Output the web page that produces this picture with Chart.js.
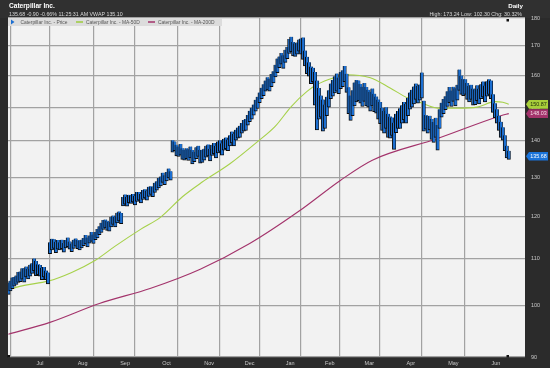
<!DOCTYPE html>
<html>
<head>
<meta charset="utf-8">
<script src="https://cdn.jsdelivr.net/npm/chart.js@4.4.1/dist/chart.umd.min.js"></script>
<style>
  html, body { margin: 0; padding: 0; background: #2b2b2b; }
  canvas { display: block; }
</style>
</head>
<body>
<canvas id="chart" width="550" height="368"></canvas>
<script>
// month labels and the trading-day index where each month starts
const monthLabels = ['Jul', 'Aug', 'Sep', 'Oct', 'Nov', 'Dec', 'Jan', 'Feb', 'Mar', 'Apr', 'May', 'Jun'];
const monthStarts = [6, 26, 49, 69, 91, 112, 132, 153, 172, 193, 214, 236];
const monthEnd = 257;
const yTicks = [90, 100, 110, 120, 130, 140, 150, 160, 170, 180];

// daily lows / highs, one per trading day (late Jun 2017 .. late Jun 2018)
const lows = [
  102.3, 103.0, 103.5, 104.0, 104.4, 104.8,
  105.0, 105.5, 104.9, 106.0, 105.6, 106.2, 106.8, 107.4, 106.3, 106.5, 106.2, 105.4, 106.0, 105.4, 104.5, 111.2, 112.0, 112.4, 111.4, 112.2,
  112.0, 112.3, 111.5, 112.5, 112.8, 112.2, 111.6, 112.4, 112.9, 112.3, 112.0, 112.5, 113.0, 113.4, 112.7, 113.6, 114.0, 113.5, 114.4, 114.8, 115.6, 116.1, 116.8,
  117.2, 116.6, 116.4, 117.4, 118.0, 117.4, 118.4, 118.9, 118.2, 122.6, 123.0, 122.5, 123.4, 123.2, 123.6, 122.8, 123.7, 124.0, 123.3, 124.2,
  124.6, 124.0, 125.0, 125.5, 124.9, 126.0, 126.6, 127.2, 127.7, 128.6, 128.0, 129.0, 129.8, 129.2, 136.8, 137.2, 135.8, 135.6, 136.0, 134.8, 134.6, 135.0,
  134.5, 135.2, 133.6, 134.2, 135.0, 135.6, 133.8, 134.0, 134.6, 135.4, 135.8, 134.4, 135.9, 136.4, 135.2, 136.6, 137.0, 136.0, 137.4, 137.8, 137.2,
  138.6, 139.4, 138.6, 140.2, 140.8, 141.0, 142.2, 142.8, 143.0, 144.6, 145.6, 146.4, 147.6, 148.8, 149.6, 151.4, 152.6, 153.6, 155.0, 155.4,
  155.0, 156.4, 157.6, 159.6, 161.0, 162.6, 163.8, 162.4, 164.4, 165.6, 167.4, 168.0, 166.6, 166.4, 167.2, 168.2, 167.2, 165.4, 163.2, 160.6, 159.8,
  157.4, 158.0, 150.6, 143.2, 146.4, 147.0, 142.8, 143.6, 147.4, 150.0, 152.6, 153.4, 154.4, 155.0, 154.2, 155.8, 156.4, 158.0, 154.6,
  148.0, 146.0, 147.4, 150.4, 151.6, 152.0, 151.2, 150.2, 151.8, 150.4, 150.0, 148.8, 150.4, 148.6, 148.2, 146.4, 145.0, 143.0, 142.2, 143.6, 141.0,
  140.8, 141.6, 137.6, 142.4, 143.6, 143.6, 145.2, 146.2, 145.2, 147.4, 149.4, 150.0, 151.0, 152.4, 151.2, 152.2, 152.8, 142.8, 143.4, 142.2, 143.2,
  140.4, 139.6, 141.0, 137.4, 143.6, 147.0, 148.0, 149.2, 150.2, 151.4, 150.2, 151.8, 150.4, 152.2, 155.2, 154.0, 153.6, 154.0, 152.4, 151.6, 152.4, 150.6,
  150.8, 152.0, 151.0, 152.6, 153.2, 151.6, 153.4, 154.0, 152.6, 148.4, 146.8, 145.2, 143.0, 141.0, 140.2, 137.2, 135.2, 134.8
];
const highs = [
  104.8, 105.2, 105.9, 106.0, 106.3, 107.1,
  107.2, 107.9, 107.9, 108.3, 107.8, 108.7, 109.0, 110.1, 109.5, 108.8, 108.6, 108.0, 108.2, 107.4, 107.0, 113.8, 114.6, 114.5, 113.9, 114.3,
  113.8, 114.4, 113.6, 114.3, 114.9, 114.0, 113.5, 114.4, 114.7, 114.3, 114.2, 114.4, 114.8, 115.5, 114.9, 115.4, 116.2, 115.6, 116.2, 116.9, 117.6, 118.4, 119.1,
  119.2, 118.9, 118.6, 119.9, 120.2, 119.8, 120.9, 121.2, 120.8, 124.8, 125.5, 124.9, 125.4, 125.3, 125.6, 125.1, 126.1, 126.1, 125.6, 126.6,
  126.8, 126.5, 127.5, 127.6, 127.4, 128.5, 128.9, 129.8, 130.2, 131.2, 130.5, 131.4, 132.3, 131.6, 140.2, 139.8, 138.9, 138.4, 139.1, 137.9, 137.4, 137.9,
  137.6, 138.4, 137.4, 136.9, 138.2, 138.6, 137.5, 137.4, 137.8, 138.6, 139.0, 137.8, 138.9, 139.4, 138.6, 139.8, 140.2, 139.3, 140.6, 141.0, 140.4,
  141.6, 142.7, 142.0, 143.2, 143.9, 144.4, 145.2, 146.1, 146.4, 147.6, 148.9, 149.8, 150.8, 152.3, 153.2, 154.6, 156.1, 157.2, 158.4, 159.5,
  159.0, 160.5, 161.4, 163.6, 165.7, 166.4, 167.6, 166.8, 168.7, 169.6, 172.4, 173.2, 171.4, 170.9, 171.2, 172.3, 172.6, 173.0, 168.4, 166.3, 164.4,
  163.0, 162.6, 161.2, 158.4, 156.0, 153.6, 152.4, 150.8, 153.2, 155.3, 157.4, 158.6, 159.8, 160.7, 159.4, 161.2, 161.8, 163.2, 160.6,
  156.2, 153.6, 155.3, 157.8, 158.6, 158.4, 157.3, 156.4, 157.6, 156.3, 155.4, 154.8, 155.8, 154.2, 153.3, 152.4, 151.6, 149.8, 148.9, 150.0, 148.0,
  147.2, 146.9, 145.4, 148.0, 148.8, 149.7, 150.6, 151.6, 151.0, 152.9, 154.6, 155.4, 156.5, 157.4, 156.6, 157.1, 161.0, 152.0, 147.6, 147.3, 147.4,
  146.4, 145.5, 146.8, 144.6, 149.4, 151.4, 152.5, 153.4, 155.0, 156.3, 155.2, 156.4, 155.9, 157.0, 162.0, 160.0, 158.9, 158.8, 157.6, 156.7, 157.0, 155.8,
  155.6, 156.9, 155.8, 157.2, 158.1, 156.8, 158.2, 158.8, 158.4, 154.0, 151.2, 149.4, 147.4, 145.6, 144.0, 141.6, 138.6, 137.2
];

// moving averages (trading-day index, value)
const ma50Idx = [0, 8, 20, 32, 44, 54, 67, 77, 88, 98, 112, 126, 135, 143, 151, 156, 165, 171, 183, 193, 202, 208, 217, 227, 237, 246, 250, 253];
const ma50 = [103.3, 104.2, 105.1, 107.0, 109.7, 112.9, 116.9, 119.8, 124.9, 128.7, 133.6, 139.8, 144.3, 150.2, 154.9, 157.1, 159.4, 160.3, 159.3, 156.0, 152.8, 151.5, 149.7, 149.7, 150.0, 151.7, 151.5, 150.87];
const ma200Idx = [0, 21, 46, 72, 97, 122, 147, 168, 184, 217, 249, 253];
const ma200 = [94.3, 96.6, 100.4, 103.6, 107.7, 113.5, 121.3, 129.2, 134.6, 140.7, 147.4, 148.03];

const lastPrice = 135.68;
const FONT = '"Liberation Sans", Arial, sans-serif';

// x ticks: month starts carry the grid, mid-month carries the label
const labelAt = {};
monthStarts.forEach((s, i) => {
    const next = i < monthStarts.length - 1 ? monthStarts[i + 1] : monthEnd;
    labelAt[(s + next) / 2] = monthLabels[i];
});
const startSet = new Set(monthStarts);

const framePlugin = {
    id: 'frame',
    beforeDraw(chart) {
        const { ctx, chartArea: a } = chart;
        ctx.save();
        ctx.fillStyle = '#2b2b2b';
        ctx.fillRect(0, 0, chart.width, chart.height);
        ctx.fillStyle = '#303030';
        ctx.fillRect(0, 0, chart.width, a.top);
        ctx.fillStyle = '#f2f2f2';
        ctx.fillRect(a.left, a.top, a.right - a.left, a.bottom - a.top);
        ctx.restore();
    },
    afterDraw(chart) {
        const { ctx, chartArea: a } = chart;
        const y = chart.scales.y;
        ctx.save();

        // header texts
        ctx.textBaseline = 'middle';
        ctx.fillStyle = '#ffffff';
        ctx.font = 'bold 6.6px ' + FONT;
        ctx.textAlign = 'left';
        ctx.fillText('Caterpillar Inc.', 9, 6.5);
        ctx.font = '5.3px ' + FONT;
        ctx.fillStyle = '#d8d8d8';
        ctx.fillText('135.68 -0.90 -0.66% 11:25:31 AM VWAP 135.10', 9, 14.5);
        ctx.textAlign = 'right';
        ctx.fillStyle = '#ffffff';
        ctx.font = 'bold 6.2px ' + FONT;
        ctx.fillText('Daily', 523, 6.5);
        ctx.font = '5.3px ' + FONT;
        ctx.fillStyle = '#d8d8d8';
        ctx.fillText('High: 173.24 Low: 102.30 Chg: 30.32%', 522, 15);

        // legend band
        ctx.fillStyle = '#dcdcdc';
        ctx.fillRect(a.left, a.top, 214, 8);
        ctx.fillStyle = '#1c6fd1';
        ctx.beginPath();
        ctx.moveTo(11, a.top + 1.5);
        ctx.lineTo(14.5, a.top + 4);
        ctx.lineTo(11, a.top + 6.5);
        ctx.fill();
        ctx.textAlign = 'left';
        ctx.font = '4.9px ' + FONT;
        ctx.fillStyle = '#555555';
        ctx.fillText('Caterpillar Inc. - Price', 20.5, a.top + 4.2);
        ctx.fillText('Caterpillar Inc. - MA-50D', 86, a.top + 4.2);
        ctx.fillText('Caterpillar Inc. - MA-200D', 158, a.top + 4.2);
        ctx.lineWidth = 1.5;
        ctx.strokeStyle = '#9ccc3c';
        ctx.beginPath(); ctx.moveTo(76, a.top + 4); ctx.lineTo(83, a.top + 4); ctx.stroke();
        ctx.strokeStyle = '#a3336b';
        ctx.beginPath(); ctx.moveTo(148, a.top + 4); ctx.lineTo(155, a.top + 4); ctx.stroke();

        // small black markers
        ctx.fillStyle = '#111111';
        ctx.fillRect(506.5, a.top + 1, 2.5, 2.5);
        ctx.fillRect(506.5, a.bottom - 2, 2.5, 2.5);
        ctx.fillRect(7.5, a.bottom - 2, 2.5, 2.5);

        // value badges on the right axis
        const badge = (v, text, bg, fg) => {
            const py = y.getPixelForValue(v);
            ctx.fillStyle = bg;
            ctx.beginPath();
            ctx.moveTo(526, py);
            ctx.lineTo(529, py - 4.3);
            ctx.lineTo(548, py - 4.3);
            ctx.lineTo(548, py + 4.3);
            ctx.lineTo(529, py + 4.3);
            ctx.closePath();
            ctx.fill();
            ctx.fillStyle = fg;
            ctx.font = '5.4px ' + FONT;
            ctx.textAlign = 'center';
            ctx.fillText(text, 538.5, py + 0.3);
        };
        badge(ma50[ma50.length - 1], '150.87', '#a8cf3a', '#1f2a0a');
        badge(ma200[ma200.length - 1], '148.03', '#a3336b', '#f4dbe6');
        badge(lastPrice, '135.68', '#1a73d9', '#ffffff');
        ctx.restore();
    }
};

const priceData = highs.map((h, i) => ({ x: i, y: [lows[i], h] }));
const ma50Data = ma50Idx.map((x, i) => ({ x: x, y: ma50[i] }));
const ma200Data = ma200Idx.map((x, i) => ({ x: x, y: ma200[i] }));

new Chart(document.getElementById('chart'), {
    type: 'bar',
    data: {
        datasets: [
            {
                label: 'Caterpillar Inc. - Price',
                data: priceData,
                backgroundColor: '#1c6fd1',
                borderColor: '#0b0b0b',
                borderWidth: { left: 1, right: 0.6, top: 0, bottom: 1 },
                borderSkipped: false,
                barThickness: 3.4,
                order: 0
            },
            {
                type: 'line',
                label: 'Caterpillar Inc. - MA-50D',
                data: ma50Data,
                borderColor: '#a6d14a',
                borderWidth: 1.1,
                pointRadius: 0,
                cubicInterpolationMode: 'monotone',
                order: 1
            },
            {
                type: 'line',
                label: 'Caterpillar Inc. - MA-200D',
                data: ma200Data,
                borderColor: '#a3336b',
                borderWidth: 1.1,
                pointRadius: 0,
                cubicInterpolationMode: 'monotone',
                order: 2
            }
        ]
    },
    options: {
        responsive: false,
        animation: false,
        layout: { padding: { left: 8, top: 18, right: 0, bottom: 0 } },
        plugins: { legend: { display: false }, tooltip: { enabled: false } },
        scales: {
            x: {
                type: 'linear',
                min: -0.2,
                max: 261.2,
                offset: false,
                afterFit: s => { s.height = 11; },
                afterBuildTicks: s => {
                    const t = monthStarts.map(v => ({ value: v }));
                    Object.keys(labelAt).forEach(k => t.push({ value: Number(k) }));
                    t.sort((p, q) => p.value - q.value);
                    s.ticks = t;
                },
                grid: {
                    color: c => (c.tick && startSet.has(c.tick.value)) ? '#a2a2a2' : 'rgba(0,0,0,0)',
                    lineWidth: 1.2,
                    drawTicks: false
                },
                border: { display: false },
                ticks: {
                    autoSkip: false,
                    maxRotation: 0,
                    padding: 3,
                    color: '#c8c8c8',
                    font: { family: FONT, size: 5.5 },
                    callback: v => labelAt[v] || ''
                }
            },
            y: {
                type: 'logarithmic',
                position: 'right',
                min: 90,
                max: 180,
                afterFit: s => { s.width = 25; },
                afterBuildTicks: s => { s.ticks = yTicks.map(v => ({ value: v })); },
                grid: { color: '#a2a2a2', lineWidth: 1.2, drawTicks: false },
                border: { display: false },
                ticks: {
                    padding: 6,
                    color: '#c8c8c8',
                    font: { family: FONT, size: 5.5 },
                    callback: v => String(v)
                }
            }
        }
    },
    plugins: [framePlugin]
});
</script>
</body>
</html>
